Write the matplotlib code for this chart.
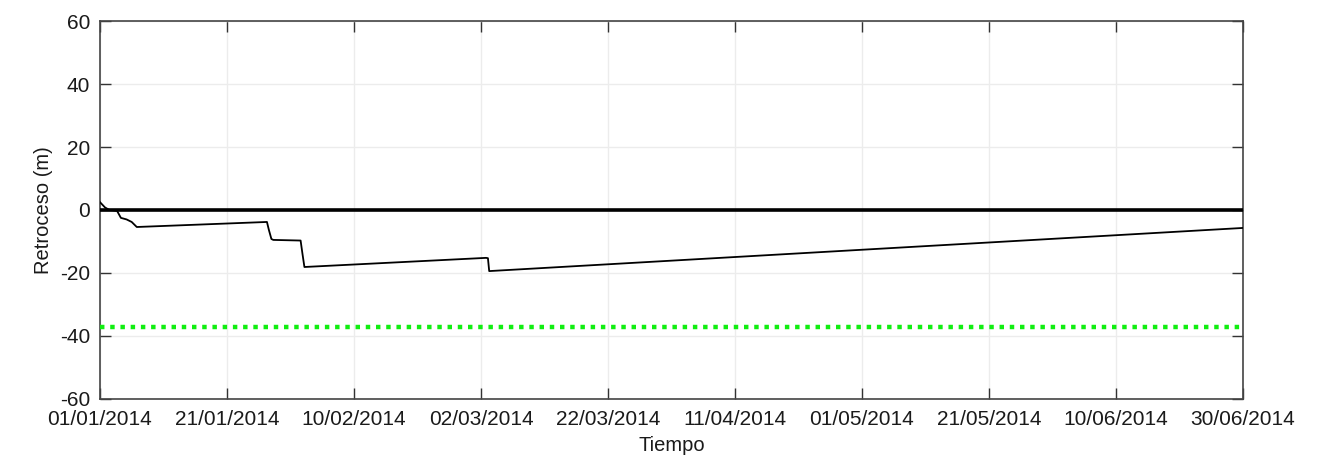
import numpy as np
import matplotlib
matplotlib.use('Agg')
import matplotlib.pyplot as plt
import matplotlib.dates as mdates
from datetime import datetime, timedelta

# datos: dias desde 01/01/2014 y retroceso (m)
dias = [0, 0.8, 1.5, 2.7, 3.3, 4.2, 5.0, 5.8, 26.3, 26.6, 27.0, 27.3, 31.6, 31.9, 32.2,
        60.8, 61.1, 61.3, 180]
retroceso = [2.5, 0.8, 0.0, -0.3, -2.5, -3.0, -3.8, -5.4, -3.8, -6.3, -9.2, -9.5, -9.7,
             -14.0, -18.1, -15.2, -15.3, -19.4, -5.7]
linea_cero = 0
linea_verde = -37.2

inicio = datetime(2014, 1, 1)
fin = datetime(2014, 6, 30)
fechas = [inicio + timedelta(days=d) for d in dias]
ticks_fechas = [inicio + timedelta(days=20 * i) for i in range(10)]
yticks = [-60, -40, -20, 0, 20, 40, 60]

plt.rcParams['font.family'] = ['Liberation Sans', 'DejaVu Sans']
plt.rcParams['axes.unicode_minus'] = False

fig = plt.figure(figsize=(13.22, 4.57), dpi=100)
ax = fig.add_axes([0.0756, 0.127, 0.8646, 0.827])

ax.grid(True, color='#ececec', linewidth=1)
ax.axhline(linea_cero, color='black', linewidth=2.6, zorder=3)
ax.axhline(linea_verde, color='#11ee11', linewidth=3.2, linestyle=(0, (1, 1.3)), zorder=3)
ax.plot(fechas, retroceso, color='black', linewidth=1.3, zorder=4)

ax.set_xlim(inicio, fin)
ax.set_ylim(-60, 60)
ax.set_xticks(ticks_fechas)
ax.xaxis.set_major_formatter(mdates.DateFormatter('%d/%m/%Y'))
ax.set_yticks(yticks)

ax.tick_params(direction='in', length=8, width=1, labelsize=15, top=True, right=True,
               colors='#333333', labelcolor='#1a1a1a')
ax.tick_params(axis='x', pad=8)
ax.tick_params(axis='y', pad=7)
for s in ax.spines.values():
    s.set_color('#444444')
    s.set_linewidth(1.2)

ax.set_xlabel('Tiempo', fontsize=14.5, labelpad=5, color='#1a1a1a')
ax.set_ylabel('Retroceso (m)', fontsize=14.5, labelpad=5, color='#1a1a1a')

fig.savefig('out.png', dpi=100)
